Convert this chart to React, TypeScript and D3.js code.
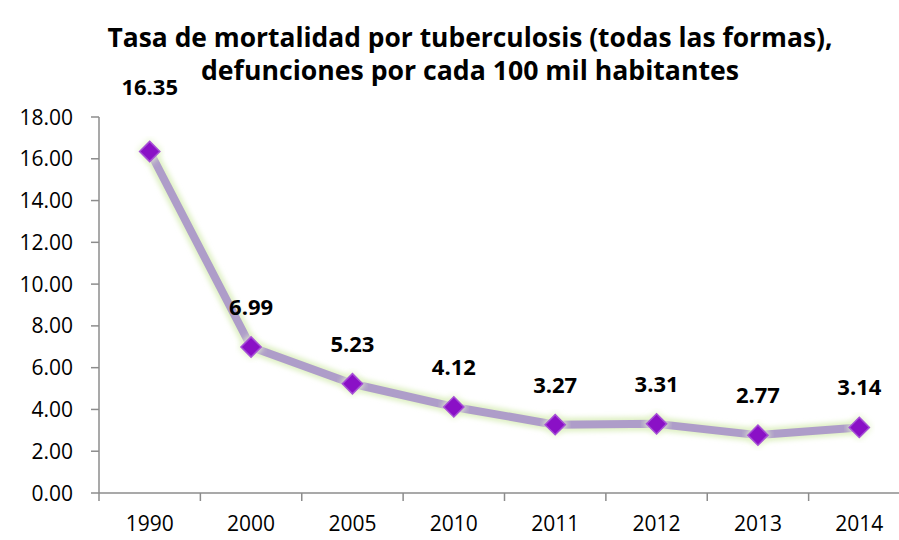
import React from "react";
import * as d3 from "d3";

const categories = ["1990", "2000", "2005", "2010", "2011", "2012", "2013", "2014"];
const values = [16.35, 6.99, 5.23, 4.12, 3.27, 3.31, 2.77, 3.14];
const yTicks = [0, 2, 4, 6, 8, 10, 12, 14, 16, 18];
const titleLines = [
  "Tasa de mortalidad por tuberculosis (todas las formas),",
  "defunciones por cada 100 mil habitantes",
];

const W = 899;
const H = 540;
const left = 99;
const plotRight = 910;
const top = 117;
const bottom = 493;
const font = "'Open Sans', 'Noto Sans', sans-serif";

export default function App() {
  const x = d3.scaleBand<string>().domain(categories).range([left, plotRight]).padding(0);
  const y = d3.scaleLinear().domain([0, 18]).range([bottom, top]);
  const cx = (c: string) => (x(c) as number) + x.bandwidth() / 2;
  const line = d3
    .line<number>()
    .x((_, i) => cx(categories[i]))
    .y((d) => y(d));
  const path = line(values) || "";
  const diamond = d3.symbol().type(d3.symbolDiamond2).size(260)() || "";
  const titleWidths = [725, 538];
  const labelY = (v: number) => {
    const ly = y(v) - 40;
    return ly < top ? top - 30 : ly;
  };

  return (
    <svg width={W} height={H} style={{ position: "absolute", left: 0, top: 0 }}>
      <defs>
        <filter id="glow" x="-10%" y="-10%" width="120%" height="120%">
          <feGaussianBlur stdDeviation="2.5" />
        </filter>
      </defs>
      <rect width={W} height={H} fill="#fff" />
      {titleLines.map((t, i) => (
        <text
          key={i}
          x={470}
          y={47 + i * 33}
          textAnchor="middle"
          fontFamily={font}
          fontWeight="bold"
          fontSize={26}
          textLength={titleWidths[i]}
          lengthAdjust="spacingAndGlyphs"
          fill="#000"
        >
          {t}
        </text>
      ))}
      {/* y axis */}
      <line x1={left} x2={left} y1={top} y2={bottom} stroke="#8c8c8c" strokeWidth={1.5} />
      {yTicks.map((t) => (
        <g key={t}>
          <line x1={left - 8} x2={left} y1={y(t)} y2={y(t)} stroke="#8c8c8c" strokeWidth={1.5} />
          <text
            x={73}
            y={y(t)}
            dy="0.36em"
            textAnchor="end"
            fontFamily={font}
            fontSize={21}
            fill="#000"
          >
            {t.toFixed(2)}
          </text>
        </g>
      ))}
      {/* x axis */}
      <line x1={left} x2={plotRight} y1={bottom} y2={bottom} stroke="#8c8c8c" strokeWidth={1.5} />
      {categories.map((c, i) => (
        <line
          key={"t" + i}
          x1={x(c) as number}
          x2={x(c) as number}
          y1={bottom}
          y2={bottom + 8}
          stroke="#8c8c8c"
          strokeWidth={1.5}
        />
      ))}
      {categories.map((c) => (
        <text
          key={"l" + c}
          x={cx(c)}
          y={523}
          dy="0.36em"
          textAnchor="middle"
          fontFamily={font}
          fontSize={21}
          fill="#000"
        >
          {c}
        </text>
      ))}
      {/* line glow */}
      <path d={path} fill="none" stroke="#dff0c4" strokeWidth={14} strokeLinejoin="round" filter="url(#glow)" />
      <path d={path} fill="none" stroke="#ae9dc9" strokeWidth={8} strokeLinejoin="round" />
      {values.map((v, i) => (
        <g key={"m" + i} transform={`translate(${cx(categories[i])},${y(v)})`}>
          <path d={diamond} fill="#e4f3cc" transform="scale(1.25)" filter="url(#glow)" />
          <path d={diamond} fill="#8a10c6" stroke="#a64fd6" strokeWidth={1.5} />
        </g>
      ))}
      {values.map((v, i) => (
        <text
          key={"d" + i}
          x={cx(categories[i])}
          y={labelY(v)}
          dy="0.36em"
          textAnchor="middle"
          fontFamily={font}
          fontWeight="bold"
          fontSize={22}
          fill="#000"
        >
          {v.toFixed(2)}
        </text>
      ))}
    </svg>
  );
}
